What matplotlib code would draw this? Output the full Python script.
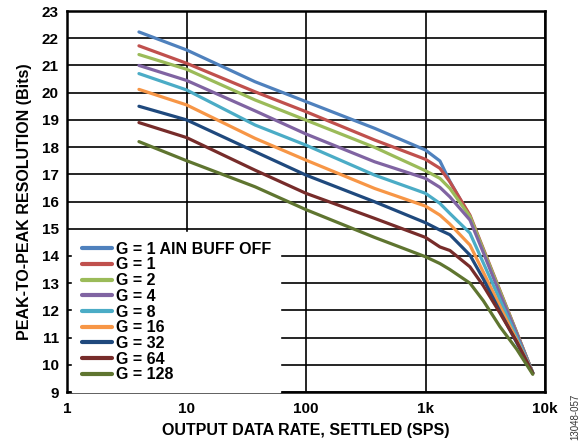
import matplotlib
matplotlib.use("Agg")
import matplotlib.pyplot as plt
from matplotlib.ticker import FixedLocator, NullLocator

plt.rcParams['font.family'] = ['Liberation Sans', 'DejaVu Sans']
plt.rcParams['font.weight'] = 'bold'

rates = [4, 10, 37.5, 100, 375, 1000, 1320, 1600, 2355, 3050, 4200, 5800, 7900]

labels = ["G = 1 AIN BUFF OFF", "G = 1", "G = 2", "G = 4", "G = 8",
          "G = 16", "G = 32", "G = 64", "G = 128"]
colors = ["#4F81BD", "#C0504D", "#9BBB59", "#8064A2", "#4BACC6",
          "#F79646", "#1F497D", "#772C2A", "#5F7530"]

g1_buff_off = [22.23, 21.57, 20.40, 19.67, 18.69, 17.89, 17.49, 16.74, 15.45, 14.20, 12.68, 11.16, 9.70]
g1 = [21.72, 21.08, 20.03, 19.30, 18.26, 17.55, 17.22, 16.72, 15.50, 14.26, 12.73, 11.19, 9.70]
g2 = [21.40, 20.86, 19.73, 18.99, 17.99, 17.13, 16.85, 16.48, 15.45, 14.22, 12.70, 11.17, 9.70]
g4 = [21.00, 20.45, 19.33, 18.48, 17.46, 16.85, 16.52, 16.17, 15.32, 14.12, 12.60, 11.14, 9.70]
g8 = [20.70, 20.10, 18.81, 18.07, 16.97, 16.30, 15.93, 15.56, 14.84, 13.74, 12.38, 11.02, 9.70]
g16 = [20.12, 19.55, 18.32, 17.52, 16.48, 15.83, 15.50, 15.17, 14.40, 13.40, 12.15, 10.90, 9.70]
g32 = [19.50, 19.00, 17.83, 16.97, 15.99, 15.22, 14.95, 14.78, 14.03, 13.15, 11.96, 10.81, 9.70]
g64 = [18.90, 18.35, 17.15, 16.30, 15.38, 14.68, 14.33, 14.20, 13.60, 12.90, 11.90, 10.85, 9.68]
g128 = [18.20, 17.50, 16.54, 15.70, 14.68, 13.97, 13.72, 13.50, 13.00, 12.35, 11.40, 10.57, 9.65]

series = [g1_buff_off, g1, g2, g4, g8, g16, g32, g64, g128]

xticks = [1, 10, 100, 1000, 10000]
xticklabels = ["1", "10", "100", "1k", "10k"]
yticks = list(range(9, 24))

fig = plt.figure(figsize=(5.82, 4.44), dpi=100)
ax = fig.add_axes([67/582, 1-392/444, (545-67)/582, (392-11)/444])

for vals, lab, col in zip(series, labels, colors):
    ax.plot(rates, vals, color=col, lw=2.3, label=lab, solid_capstyle='round', zorder=3)

ax.set_xscale('log')
ax.set_xlim(1, 10000)
ax.set_ylim(9, 23)
ax.xaxis.set_major_locator(FixedLocator(xticks))
ax.xaxis.set_minor_locator(NullLocator())
ax.set_xticklabels(xticklabels)
ax.set_yticks(yticks)
ax.tick_params(length=0, labelsize=11)
ax.tick_params(axis='x', pad=7)
ax.tick_params(axis='y', pad=6)
for t in ax.get_xticklabels() + ax.get_yticklabels():
    t.set_fontweight('bold')
ax.grid(True, color='black', lw=1.2, zorder=1)
ax.set_axisbelow(True)
for s in ax.spines.values():
    s.set_linewidth(1.8)
    s.set_color('black')

ax.set_xlabel("OUTPUT DATA RATE, SETTLED (SPS)", fontsize=11.5, fontweight='bold', labelpad=5)
ax.set_ylabel("PEAK-TO-PEAK RESOLUTION (Bits)", fontsize=11.5, fontweight='bold', labelpad=7)

leg = ax.legend(loc='lower left', bbox_to_anchor=(0.0105, 0.0), frameon=True,
                fancybox=False, framealpha=1, edgecolor='white',
                prop={'weight': 'bold', 'size': 11.5},
                handlelength=1.9, handletextpad=0.23, labelspacing=0.045,
                borderpad=0.6, borderaxespad=0.0)
leg.set_zorder(5)
for line in leg.get_lines():
    line.set_linewidth(3)

fig.text(0.989, 0.008, "13048-057", rotation=90, fontsize=7, fontweight='normal',
         color='#333333', ha='center', va='bottom')

fig.savefig("out.png", dpi=100)
